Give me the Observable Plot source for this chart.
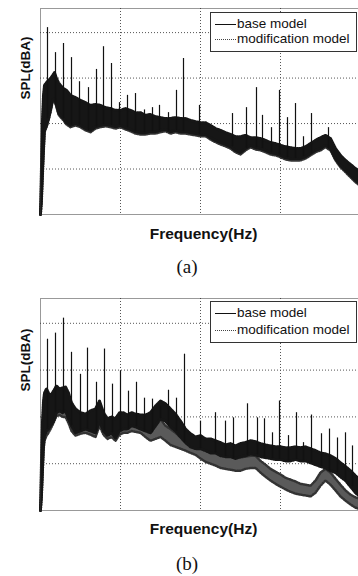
<!DOCTYPE html>
<html><head><meta charset="utf-8">
<script src="https://cdn.jsdelivr.net/npm/d3@7"></script>
<script src="https://cdn.jsdelivr.net/npm/@observablehq/plot@0.6"></script>
<style>
body{margin:0;background:#fff;}
#wrap{position:relative;width:358px;height:576px;overflow:hidden;font-family:"Liberation Sans",Arial,sans-serif;color:#111;}
.panel{position:absolute;left:0;}
.legend{position:absolute;left:210px;width:147px;border:1px solid #333;background:#fff;box-sizing:border-box;}
.row{position:absolute;left:0;height:16px;width:100%;}
.row .ln{position:absolute;left:4px;width:21px;top:8px;}
.row .tx{position:absolute;left:26px;top:0;font-size:13.5px;line-height:16px;white-space:nowrap;}
.cap{position:absolute;width:60px;text-align:center;font-family:"Liberation Serif","DejaVu Serif",serif;font-size:19px;line-height:22px;}
</style></head>
<body>
<div id="wrap"></div>
<script>
// ---------- Panel (a) ----------
const freqA = [0,5,10,15,20,30,40,50,60,70,
  80,90,100,115,130,150,175,200,225,250,
  275,300,325,350,375,400,425,450,475,500,
  525,550,575,600,625,650,675,700,725,750,
  775,800,825,850,875,900,925,950,975,1000,
  1025,1050,1075,1100,1125,1150,1175,1200,1225,1250,
  1275,1300,1325,1350,1375,1400,1425,1450,1475,1500,
  1525,1550,1575,1590];
const baseHiA = [10,20.8,30.7,36.2,38.4,39.0,39.5,39.9,40.5,41.2,
  39.9,39.0,38.4,37.7,37.3,36.2,35.7,35.1,34.6,34.0,
  34.2,34.0,33.5,33.3,32.9,32.9,33.3,32.9,32.4,32.4,
  31.8,32.0,31.5,31.3,31.1,31.1,31.3,31.1,31.1,30.7,
  30.4,30.2,30.2,29.6,28.9,28.5,28.0,27.6,27.1,27.1,
  27.4,26.9,26.9,26.7,26.3,25.8,25.6,25.2,24.9,24.7,
  24.5,24.5,24.9,25.6,26.3,26.9,27.4,26.7,24.5,23.0,
  21.9,21.0,20.1,19.7];
const baseLoA = [10,13.1,18.6,24.1,28.5,29.6,31.1,32.9,35.1,35.5,
  34.0,32.4,31.8,31.1,30.2,29.6,30.0,29.6,28.9,28.5,
  29.3,29.6,29.8,29.6,29.3,29.6,29.1,28.7,28.2,28.0,
  28.0,28.2,28.2,28.5,28.7,28.2,28.5,28.2,28.2,28.0,
  27.8,27.6,27.6,26.9,26.3,25.8,25.4,24.9,24.1,23.6,
  24.5,25.2,24.7,24.5,24.1,23.6,23.4,23.0,22.5,22.3,
  22.3,22.3,22.7,23.4,24.1,24.5,25.2,24.5,22.3,20.8,
  19.7,18.6,17.5,17.0];
const modHiA = [10,19.5,29.8,35.5,37.9,38.6,39.0,39.5,40.1,40.6,
  39.4,38.5,37.9,37.2,36.8,35.8,35.2,34.7,34.1,33.6,
  33.8,33.5,33.1,32.8,32.5,32.4,32.8,32.5,32.0,31.9,
  31.4,31.6,31.1,30.9,30.7,30.6,30.8,30.7,30.6,30.3,
  30.0,29.8,29.7,29.1,28.5,28.0,27.6,27.1,26.6,26.5,
  26.9,26.5,26.4,26.2,25.8,25.4,25.1,24.8,24.4,24.2,
  24.0,24.1,24.5,25.1,25.8,26.4,26.9,26.2,24.1,22.6,
  21.5,20.6,19.7,19.3];
const modLoA = [10,12.8,18.2,23.7,28.1,29.2,30.7,32.5,34.7,35.1,
  33.6,32.0,31.4,30.7,29.8,29.2,29.6,29.2,28.5,28.1,
  28.9,29.2,29.4,29.2,28.9,29.2,28.7,28.3,27.8,27.6,
  27.6,27.8,27.8,28.1,28.3,27.8,28.1,27.8,27.8,27.6,
  27.4,27.2,27.2,26.5,25.9,25.4,25.0,24.5,23.7,23.2,
  24.1,24.8,24.3,24.1,23.7,23.2,23.0,22.6,22.1,21.9,
  21.9,21.9,22.3,23.0,23.7,24.1,24.8,24.1,21.9,20.4,
  19.3,18.2,17.1,16.6];
const spikeFreqA = [35,75,115,155,195,240,280,315,355,395,
  435,475,520,560,595,640,680,715,795,960,
  1030,1080,1110,1155,1195,1235,1275,1315,1355,1440];
const spikeTopA = [51.1,45.6,47.6,44.5,39.2,37.9,41.9,46.9,43.2,34.6,
  36.2,36.6,33.0,33.5,34.0,32.4,37.3,44.3,34.0,32.2,
  33.5,37.9,31.8,29.1,37.3,31.3,34.4,27.1,32.2,29.1];

// ---------- Panel (b) ----------
const freqB = [0,5,10,15,20,30,40,50,65,80,
  95,110,125,140,155,175,200,225,250,275,
  295,315,335,355,375,395,415,435,455,475,
  500,525,550,575,600,625,650,675,700,725,
  750,775,800,825,850,875,900,925,950,975,
  1000,1025,1050,1075,1100,1125,1150,1175,1200,1225,
  1250,1275,1300,1325,1350,1375,1400,1425,1450,1475,
  1500,1525,1550,1575,1590];
const baseHiB = [10,20.6,29.1,33.4,35.1,36.0,35.1,34.5,35.5,36.6,
  36.0,36.2,36.4,35.1,33.0,31.7,30.9,30.6,31.3,31.7,
  33.4,30.9,29.6,30.0,29.6,30.9,30.9,30.4,30.9,30.6,
  30.4,30.4,30.9,32.3,33.4,32.8,31.7,30.6,29.1,27.4,
  26.4,25.7,26.0,25.3,25.3,24.9,24.5,24.0,24.3,23.8,
  24.3,24.5,24.9,24.7,24.3,24.0,23.8,23.6,23.6,23.4,
  23.4,23.6,23.4,23.6,23.2,22.8,22.3,22.1,21.7,21.1,
  20.2,19.4,18.5,17.4,16.8];
const baseLoB = [10,13.2,18.5,23.8,26.0,27.0,27.4,28.1,29.1,30.9,
  31.3,30.9,31.3,29.6,28.1,26.6,27.0,27.4,27.0,26.6,
  29.1,27.0,26.0,26.6,25.5,27.0,27.4,27.4,28.1,27.9,
  27.4,27.0,26.6,28.1,29.6,29.1,27.9,27.0,25.7,24.5,
  23.6,23.2,23.2,22.8,22.3,22.3,21.7,21.5,21.5,21.1,
  21.5,21.7,22.1,21.9,21.5,21.3,21.1,20.9,20.9,20.6,
  20.6,20.9,20.6,20.6,20.2,19.8,19.4,19.1,18.5,18.1,
  17.2,16.4,15.1,13.8,13.2];
const modHiB = [10,19.6,28.1,32.3,33.8,34.5,33.8,33.8,35.1,35.5,
  35.1,35.5,35.1,33.8,32.3,30.9,30.2,30.0,30.4,30.9,
  32.1,30.2,29.1,29.1,28.7,30.0,30.0,29.6,30.0,29.6,
  29.6,29.1,28.7,29.1,29.6,28.1,27.4,26.6,25.7,25.3,
  24.9,24.5,23.6,23.0,22.8,22.3,21.9,21.7,21.5,21.3,
  21.3,21.5,21.7,21.7,20.6,19.8,18.9,18.3,17.7,17.0,
  16.6,16.2,15.7,15.5,15.3,16.4,18.1,18.9,18.1,16.8,
  15.5,14.3,13.4,12.8,12.6];
const modLoB = [10,12.6,17.4,22.8,24.9,26.0,26.6,27.4,28.7,30.2,
  30.4,30.0,30.0,28.7,27.0,26.0,26.4,26.6,26.2,25.7,
  28.1,26.2,25.3,25.7,24.9,26.2,26.6,26.6,27.0,26.8,
  26.6,25.7,24.9,25.3,25.7,24.9,24.0,23.6,23.2,22.8,
  22.3,21.9,21.1,20.4,20.0,19.6,19.1,18.9,18.7,18.5,
  18.5,18.9,19.1,19.1,18.1,17.2,16.4,15.7,15.1,14.5,
  14.0,13.6,13.4,13.2,13.0,13.8,15.3,16.4,15.5,14.3,
  13.0,12.1,11.3,10.6,10.4];
const spikeFreqB = [35,75,115,155,200,235,280,320,360,400,
  440,480,520,560,600,640,680,720,800,875,
  925,965,1035,1085,1120,1160,1195,1240,1280,1315,
  1355,1405,1445,1485,1525,1560];
const spikeTopB = [46.6,47.9,51.1,43.8,39.1,44.7,37.4,44.5,37.0,39.8,
  35.5,37.4,34.0,33.8,32.3,35.7,34.0,43.4,29.1,30.9,
  29.1,29.8,32.8,29.8,29.6,26.6,33.4,26.0,30.9,24.5,
  30.4,26.4,27.4,25.5,26.6,23.8];

const xTicks = [400,800,1200];
const yTicks = [20,30,40,50];
const xLabel = "Frequency(Hz)";
const yLabel = "SPL(dBA)";
const seriesNames = ["base model","modification model"];

function makePanel(freq, bLo, bHi, mLo, mHi, sF, sT, plotH, yLabDy, xLabDy) {
  const band = freq.map((f,i)=>({f, bLo:bLo[i], bHi:bHi[i], mLo:mLo[i], mHi:mHi[i]}));
  const bis = d3.bisector(d=>d.f).center;
  const spikes = sF.map((f,i)=>({f, top:sT[i], base: band[bis(band,f)].bLo}));
  return Plot.plot({
    width:358, height: 8+plotH+36,
    marginTop:8, marginLeft:40, marginRight:0, marginBottom:36,
    style:{fontFamily:"Liberation Sans, Arial, sans-serif", background:"transparent"},
    x:{domain:[0,1590], axis:null},
    y:{domain:[10,55.3], axis:null},
    marks:[
      Plot.gridX(xTicks,{stroke:"#555", strokeOpacity:1, strokeDasharray:"1,2"}),
      Plot.gridY(yTicks,{stroke:"#555", strokeOpacity:1, strokeDasharray:"1,2"}),
      Plot.areaY(band,{x:"f", y1:"mLo", y2:"mHi", fill:"#5a5a5a"}),
      Plot.lineY(band,{x:"f", y:"mLo", stroke:"#333", strokeWidth:2.5, strokeDasharray:"1,1.5"}),
      Plot.lineY(band,{x:"f", y:"mHi", stroke:"#333", strokeWidth:2.5, strokeDasharray:"1,1.5"}),
      Plot.areaY(band,{x:"f", y1:"bLo", y2:"bHi", fill:"#161616"}),
      Plot.lineY(band,{x:"f", y:"bHi", stroke:"#161616", strokeWidth:3, strokeDasharray:"1.5,1"}),
      Plot.lineY(band,{x:"f", y:"bLo", stroke:"#161616", strokeWidth:3, strokeDasharray:"1,1.5"}),
      Plot.ruleX(spikes,{x:"f", y1:"base", y2:"top", stroke:"#111", strokeWidth:1.2}),
      Plot.frame({stroke:"#333", strokeDasharray:"1,1"}),
      Plot.text([xLabel],{text:d=>d, frameAnchor:"bottom", dx:4, dy:xLabDy, fontSize:15.5, fontWeight:"bold", fill:"#111"}),
      Plot.text([yLabel],{text:d=>d, frameAnchor:"left", dx:-15, dy:yLabDy, rotate:-90, fontSize:13.5, fontWeight:"bold", fill:"#111"})
    ]
  });
}

const wrap = document.getElementById("wrap");
function place(el, top){ const d=document.createElement("div"); d.className="panel"; d.style.top=top+"px"; d.appendChild(el); wrap.appendChild(d); }
function legend(top, h){
  const L=document.createElement("div"); L.className="legend"; L.style.top=top+"px"; L.style.height=h+"px";
  L.innerHTML = `<div class="row" style="top:3px"><div class="ln" style="border-top:1.5px solid #111"></div><div class="tx">${seriesNames[0]}</div></div>`+
    `<div class="row" style="top:${h-22}px"><div class="ln" style="border-top:1px dotted #444"></div><div class="tx">${seriesNames[1]}</div></div>`;
  wrap.appendChild(L);
}
function caption(txt, top){ const c=document.createElement("div"); c.className="cap"; c.textContent=txt; c.style.left=(187-30)+"px"; c.style.top=top+"px"; wrap.appendChild(c); }

place(makePanel(freqA, baseLoA, baseHiA, modLoA, modHiA, spikeFreqA, spikeTopA, 206, -12, 24), 0);
legend(12, 40);
caption("(a)", 256);
place(makePanel(freqB, baseLoB, baseHiB, modLoB, modHiB, spikeFreqB, spikeTopB, 212, -13, 23), 290);
legend(301, 42);
caption("(b)", 553);
</script>
</body></html>
